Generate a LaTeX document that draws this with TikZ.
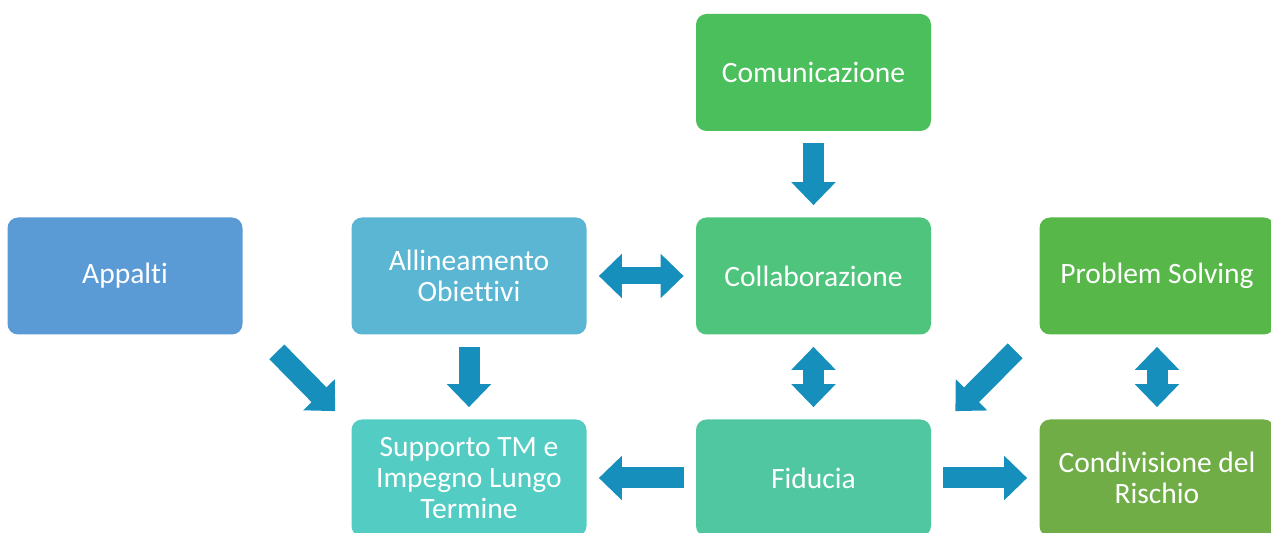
\documentclass[tikz,border=0pt]{standalone}
\usepackage{fontspec}
\setmainfont{Carlito}[Ligatures=NoCommon]
\usepackage{tikz}
\usetikzlibrary{
  arrows.meta,
  calc,
  positioning
}
\usepackage{xcolor}
\definecolor{appblue}{HTML}{5B9BD5}
\definecolor{aliblue}{HTML}{5AB6D2}
\definecolor{comgreen}{HTML}{4BBF5B}
\definecolor{colgreen}{HTML}{4EC47D}
\definecolor{progreen}{HTML}{57B749}
\definecolor{supteal}{HTML}{53CCC3}
\definecolor{fidteal}{HTML}{50C7A0}
\definecolor{conolive}{HTML}{70AD47}
\definecolor{arrowblue}{HTML}{168FBC}

\begin{document}
\begin{tikzpicture}[
  box/.style={minimum width=4.7cm, minimum height=2.34cm, rounded corners=6pt, text=white, align=center, inner sep=2pt, font=\fontsize{16.8}{17.6}\selectfont},
  fat/.style={draw=arrowblue, line width=0.42cm, shorten <=0.24cm, shorten >=0.24cm},
  arrow/.style={fat, -{Triangle[length=0.46cm, width=0.86cm]}},
  dblarrow/.style={fat, {Triangle[length=0.46cm, width=0.86cm]}-{Triangle[length=0.46cm, width=0.86cm]}},
]
\useasboundingbox (0,0) rectangle (25.42,10.66);

% Top: Comunicazione
\node[box, fill=comgreen] (com) at (16.27, 9.21) {Comunicazione};

% Middle row
\node[box, fill=appblue] (app) at (2.50, 5.14) {Appalti};
\node[box, fill=aliblue] (ali) at (9.38, 5.14) {Allineamento\\Obiettivi};
\node[box, fill=colgreen] (col) at (16.27, 5.14) {Collaborazione};
\node[box, fill=progreen] (pro) at (23.14, 5.14) {Problem Solving};

% Bottom row
\node[box, fill=supteal] (sup) at (9.38, 1.10) {Supporto TM e\\Impegno Lungo\\Termine};
\node[box, fill=fidteal] (fid) at (16.27, 1.10) {Fiducia};
\node[box, fill=conolive] (con) at (23.14, 1.10) {Condivisione del\\Rischio};

% Arrows
\draw[arrow] (com) -- (col);
\draw[arrow] (ali) -- (sup);
\draw[arrow] (fid) -- (sup);
\draw[arrow] (fid) -- (con);
\draw[dblarrow, line width=0.34cm] (ali) -- (col);
\draw[dblarrow] (col) -- (fid);
\draw[dblarrow] (pro) -- (con);

% Diagonal arrows
\draw[arrow, shorten <=0pt, shorten >=0pt] ($(app.south east)+(0.68,-0.34)$) -- ($(sup.north west)+(-0.32,0.16)$);
\draw[arrow, shorten <=0pt, shorten >=0pt] ($(pro.south west)+(-0.48,-0.32)$) -- ($(fid.north east)+(0.48,0.16)$);
\end{tikzpicture}
\end{document}
